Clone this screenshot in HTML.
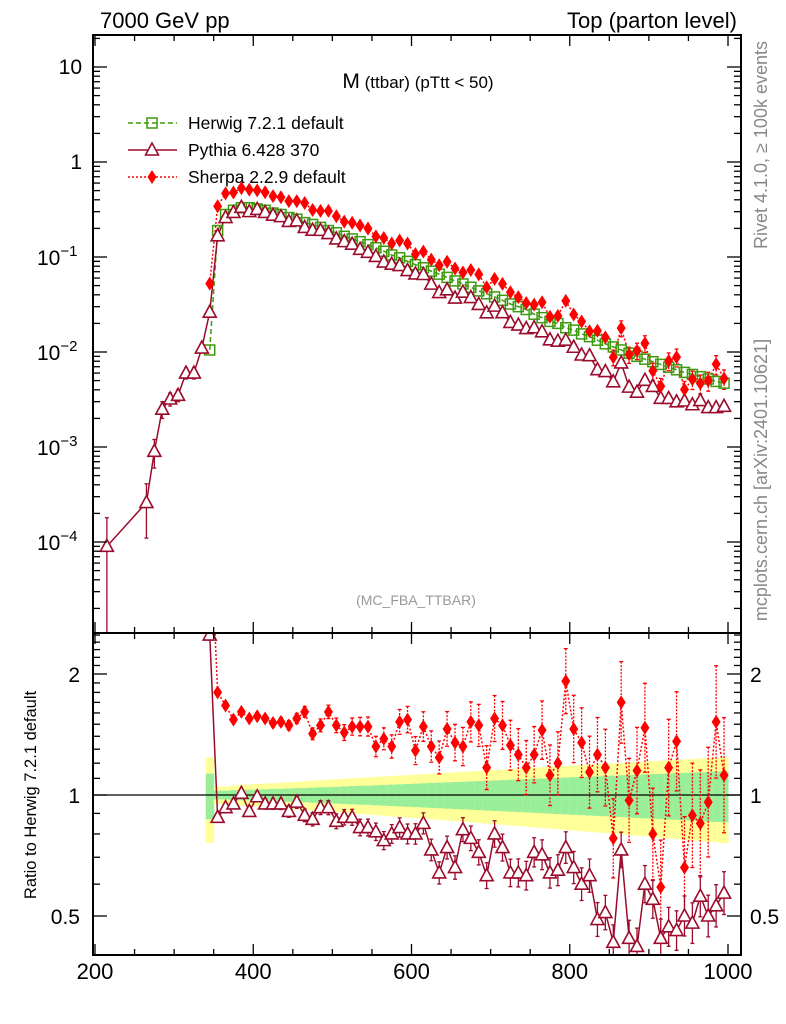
<!DOCTYPE html>
<html><head><meta charset="utf-8"><style>
html,body{margin:0;padding:0;background:#fff;}
svg{display:block;font-family:"Liberation Sans",sans-serif;}
</style></head><body>
<svg id="c" width="786" height="1024" viewBox="0 0 786 1024" xmlns="http://www.w3.org/2000/svg">
<defs>
<clipPath id="cm"><rect x="93" y="35" width="648" height="598"/></clipPath>
<clipPath id="cr"><rect x="93" y="633" width="648" height="322"/></clipPath>
</defs>
<text x="100" y="28" font-size="22">7000 GeV pp</text>
<text x="737" y="28" font-size="22" text-anchor="end">Top (parton level)</text>
<text x="418" y="88" text-anchor="middle"><tspan font-size="21">M</tspan><tspan font-size="17"> (ttbar) (pTtt &lt; 50)</tspan></text>
<text x="416" y="605" font-size="14" fill="#999" text-anchor="middle">(MC_FBA_TTBAR)</text>
<text transform="translate(767,145) rotate(-90)" font-size="18" fill="#888" text-anchor="middle">Rivet 4.1.0, ≥ 100k events</text>
<text transform="translate(767,480) rotate(-90)" font-size="18" fill="#888" text-anchor="middle">mcplots.cern.ch [arXiv:2401.10621]</text>
<text transform="translate(36,795) rotate(-90)" font-size="16.5" text-anchor="middle">Ratio to Herwig 7.2.1 default</text>
<g id="band" clip-path="url(#cr)"></g>
<g id="mainmarks" clip-path="url(#cm)"></g>
<g id="ratiomarks" clip-path="url(#cr)"></g>
<g id="axes"></g>
<g id="legend"></g>
</svg>
<script>
const bins=[345,355,365,375,385,395,405,415,425,435,445,455,465,475,485,495,505,515,525,535,545,555,565,575,585,595,605,615,625,635,645,655,665,675,685,695,705,715,725,735,745,755,765,775,785,795,805,815,825,835,845,855,865,875,885,895,905,915,925,935,945,955,965,975,985,995];
const herwig=[0.0105,0.19,0.28,0.31,0.33,0.33,0.32,0.31,0.29,0.28,0.26,0.25,0.23,0.22,0.205,0.19,0.18,0.165,0.155,0.145,0.135,0.125,0.115,0.105,0.098,0.09,0.083,0.077,0.071,0.066,0.061,0.056,0.052,0.048,0.044,0.041,0.038,0.035,0.032,0.030,0.028,0.025,0.023,0.021,0.020,0.018,0.017,0.0155,0.0145,0.0133,0.0122,0.0113,0.0105,0.0097,0.0090,0.0084,0.0079,0.0074,0.0069,0.0065,0.0061,0.0058,0.0055,0.0052,0.0049,0.0047];
const pythiaRatio=[2.5,0.88,0.93,0.95,1.01,0.91,0.99,0.95,0.95,0.95,0.91,0.96,0.89,0.87,0.93,0.93,0.86,0.88,0.88,0.83,0.83,0.81,0.77,0.80,0.83,0.80,0.80,0.85,0.73,0.64,0.74,0.66,0.82,0.78,0.72,0.63,0.80,0.74,0.64,0.64,0.63,0.72,0.71,0.64,0.65,0.74,0.66,0.60,0.63,0.49,0.51,0.43,0.73,0.44,0.42,0.60,0.55,0.44,0.47,0.46,0.50,0.48,0.56,0.50,0.53,0.57];
const sherpaRatio=[5.0,1.80,1.67,1.54,1.61,1.55,1.57,1.55,1.51,1.52,1.49,1.55,1.61,1.42,1.49,1.61,1.49,1.43,1.48,1.48,1.48,1.32,1.38,1.32,1.52,1.54,1.29,1.48,1.32,1.24,1.46,1.35,1.32,1.52,1.49,1.17,1.55,1.49,1.33,1.26,1.17,1.26,1.45,1.12,1.20,1.92,1.46,1.35,1.14,1.26,1.17,0.78,1.70,0.97,1.15,1.47,0.80,0.59,1.17,1.36,0.66,0.89,0.85,0.96,1.52,1.12];
const bandGreen=[0.13,0.025,0.025,0.028,0.03,0.03,0.032,0.033,0.035,0.036,0.038,0.04,0.041,0.043,0.045,0.046,0.048,0.05,0.052,0.054,0.055,0.057,0.059,0.061,0.063,0.065,0.067,0.069,0.071,0.073,0.075,0.077,0.079,0.081,0.083,0.085,0.087,0.089,0.091,0.093,0.095,0.097,0.099,0.101,0.103,0.105,0.107,0.109,0.111,0.113,0.115,0.117,0.119,0.121,0.123,0.125,0.127,0.129,0.131,0.133,0.135,0.137,0.139,0.141,0.143,0.145];
const bandYellow=[0.24,0.05,0.05,0.055,0.06,0.062,0.065,0.068,0.07,0.073,0.076,0.079,0.082,0.085,0.088,0.091,0.094,0.097,0.1,0.103,0.106,0.109,0.112,0.115,0.118,0.121,0.124,0.127,0.13,0.133,0.136,0.139,0.142,0.145,0.148,0.151,0.154,0.157,0.16,0.163,0.166,0.169,0.172,0.175,0.178,0.181,0.184,0.187,0.19,0.193,0.196,0.199,0.202,0.205,0.208,0.211,0.214,0.217,0.22,0.223,0.226,0.229,0.232,0.235,0.238,0.241];
const pythiaLowBins=[215,265,275,285,295,305,315,325,335];
const pythiaLow=[0.00009,0.00026,0.0009,0.0025,0.0032,0.0035,0.006,0.006,0.011];
const pythiaLowErr=[0.00009,0.00015,0.0003,0.0005,0.0005,0.0005,0.0008,0.0008,0.0012];
const xTicks=[200,400,600,800,1000];
const yTicksMain=[1,0,-1,-2,-3,-4];
const yTicksRatio=[0.5,1,2];

const NS="http://www.w3.org/2000/svg";
const X=m=>95+(m-200)*0.79125;
const Y=v=>162-95*Math.log10(v);
const R=r=>795-121*Math.log2(r);
const GREEN="#3d9a0e",PY="#9b0c2c",SH="#ff0000";
function mk(tag,attrs,parent){const e=document.createElementNS(NS,tag);for(const k in attrs)e.setAttribute(k,attrs[k]);parent.appendChild(e);return e;}
const mainG=document.getElementById('mainmarks'),ratG=document.getElementById('ratiomarks'),bandG=document.getElementById('band'),axG=document.getElementById('axes'),legG=document.getElementById('legend');

function tri(g,x,y,c){const p=mk('polygon',{points:`${x},${y-7} ${x-6.5},${y+5} ${x+6.5},${y+5}`,fill:'#fff',stroke:c,'stroke-width':1.6},g);}
function sq(g,x,y,c){const p=mk('rect',{x:x-5,y:y-5,width:10,height:10,fill:'none',stroke:c,'stroke-width':1.5},g);}
function dia(g,x,y,c){const p=mk('polygon',{points:`${x},${y-7} ${x+4.5},${y} ${x},${y+7} ${x-4.5},${y}`,fill:c},g);}
function ebar(g,x,y1,y2,c,dash){const l=mk('line',{x1:x,x2:x,y1:y1,y2:y2,stroke:c,'stroke-width':1.3},g);if(dash)l.setAttribute('stroke-dasharray','2,1.5');
 mk('line',{x1:x-2,x2:x+2,y1:y1,y2:y1,stroke:c,'stroke-width':1.3},g);mk('line',{x1:x-2,x2:x+2,y1:y2,y2:y2,stroke:c,'stroke-width':1.3},g);}
function pline(g,pts,c,dash,name){const p=mk('polyline',{points:pts.map(q=>q.join(',')).join(' '),fill:'none',stroke:c,'stroke-width':1.5},g);if(dash)p.setAttribute('stroke-dasharray',dash);}

for(let i=0;i<bins.length;i++){
 const x0=X(bins[i]-5),x1=X(bins[i]+5);
 const y=mk('rect',{x:x0,y:R(1+bandYellow[i]),width:x1-x0+0.5,height:R(1-bandYellow[i])-R(1+bandYellow[i]),fill:'#ffff99'},bandG);
 
 const g=mk('rect',{x:x0,y:R(1+bandGreen[i]),width:x1-x0+0.5,height:R(1-bandGreen[i])-R(1+bandGreen[i]),fill:'#99ee99'},bandG);
 
}
const one=mk('line',{x1:93,x2:741,y1:R(1),y2:R(1),stroke:'#000','stroke-width':1.3},bandG);


const hw=bins.map((m,i)=>[X(m),Y(herwig[i])]);
const py=pythiaLowBins.map((m,i)=>[X(m),Y(pythiaLow[i])]).concat(bins.map((m,i)=>[X(m),Y(herwig[i]*pythiaRatio[i])]));
const sh=bins.map((m,i)=>[X(m),Y(herwig[i]*sherpaRatio[i])]);
pline(mainG,sh,SH,'2,2','sherpa-line');
pline(mainG,hw,GREEN,'5,3','herwig-line');
pline(mainG,py,PY,null,'pythia-line');
pythiaLowBins.forEach((m,i)=>{ebar(mainG,X(m),Y(pythiaLow[i]+pythiaLowErr[i]),Y(Math.max(pythiaLow[i]-pythiaLowErr[i],1e-6)),PY);});
bins.forEach((m,i)=>{if(m>=850){const v=herwig[i]*sherpaRatio[i];const e=bandGreen[i]*1.6*v;ebar(mainG,X(m),Y(v+e),Y(v-e),SH,true);}});
hw.forEach(p=>sq(mainG,p[0],p[1],GREEN));
py.forEach(p=>tri(mainG,p[0],p[1],PY));
sh.forEach(p=>dia(mainG,p[0],p[1],SH));

const pr=bins.map((m,i)=>[X(m),R(pythiaRatio[i])]);
const sr=bins.map((m,i)=>[X(m),R(sherpaRatio[i])]);
bins.forEach((m,i)=>{const ep=bandGreen[i]*0.9;const es=bandGreen[i]*1.3*(bandGreen[i]/0.07);
 if(i>0){ebar(ratG,X(m),R(sherpaRatio[i]*(1+es)),R(sherpaRatio[i]/(1+es)),SH,true);ebar(ratG,X(m),R(pythiaRatio[i]*(1+ep)),R(pythiaRatio[i]/(1+ep)),PY);}});
pline(ratG,sr,SH,'2,2','sherpa-ratio-line');
pline(ratG,pr,PY,null,'pythia-ratio-line');
pr.forEach(p=>tri(ratG,p[0],p[1],PY));
sr.forEach(p=>dia(ratG,p[0],p[1],SH));

[[35,633,'main-frame'],[633,955,'ratio-frame']].forEach(f=>{const r=mk('rect',{x:93,y:f[0],width:648,height:f[1]-f[0],fill:'none',stroke:'#000','stroke-width':2},axG);});
function tick(x1,y1,x2,y2){mk('line',{x1,y1,x2,y2,stroke:'#000','stroke-width':1.3},axG);}
for(let m=200;m<=1000;m+=50){const x=X(m),L=(m%200===0)?11:6;
 tick(x,955,x,955-L);tick(x,633,x,633+L);tick(x,633,x,633-L);tick(x,35,x,35+L);}
xTicks.forEach(m=>{const t=mk('text',{x:X(m),y:979,'font-size':22,'text-anchor':'middle'},axG);t.textContent=m;});
for(let d=-5;d<=1;d++){for(let k=1;k<10;k++){const v=k*Math.pow(10,d);const y=Y(v);if(y<35||y>633)continue;const L=k===1?14:7;tick(93,y,93+L,y);tick(741,y,741-L,y);}}
yTicksMain.forEach(d=>{const y=Y(Math.pow(10,d));let t;
 if(d>=0){t=mk('text',{x:82,y:y+7,'font-size':21,'text-anchor':'end'},axG);t.textContent=d===1?'10':'1';}
 else{t=mk('text',{x:37,y:y+8,'font-size':21},axG);t.textContent='10';const s=mk('tspan',{dy:-9,'font-size':15},t);s.textContent='−'+(-d);}
 });
for(let r=0.4;r<=2.55;r+=0.1){const rr=Math.round(r*10)/10;const y=R(rr);if(y<633||y>955)continue;const maj=(rr===0.5||rr===1||rr===2);const L=maj?14:7;tick(93,y,93+L,y);tick(741,y,741-L,y);}
yTicksRatio.forEach(r=>{const y=R(r)+8;const t=mk('text',{x:80,y:y,'font-size':21,'text-anchor':'end'},axG);t.textContent=r;
 const t2=mk('text',{x:750,y:y,'font-size':21},axG);t2.textContent=r;});

const leg=[['Herwig 7.2.1 default',GREEN,'5,3',sq],['Pythia 6.428 370',PY,null,tri],['Sherpa 2.2.9 default',SH,'2,2',dia]];
leg.forEach((e,i)=>{const y=123+i*27;const g=mk('g',{},legG);
 const l=mk('line',{x1:128,x2:177,y1:y,y2:y,stroke:e[1],'stroke-width':1.5},g);if(e[2])l.setAttribute('stroke-dasharray',e[2]);
 e[3](g,152,y,e[1]);
 const t=mk('text',{x:188,y:y+6,'font-size':17.5},g);t.textContent=e[0];});
</script>
</body></html>
